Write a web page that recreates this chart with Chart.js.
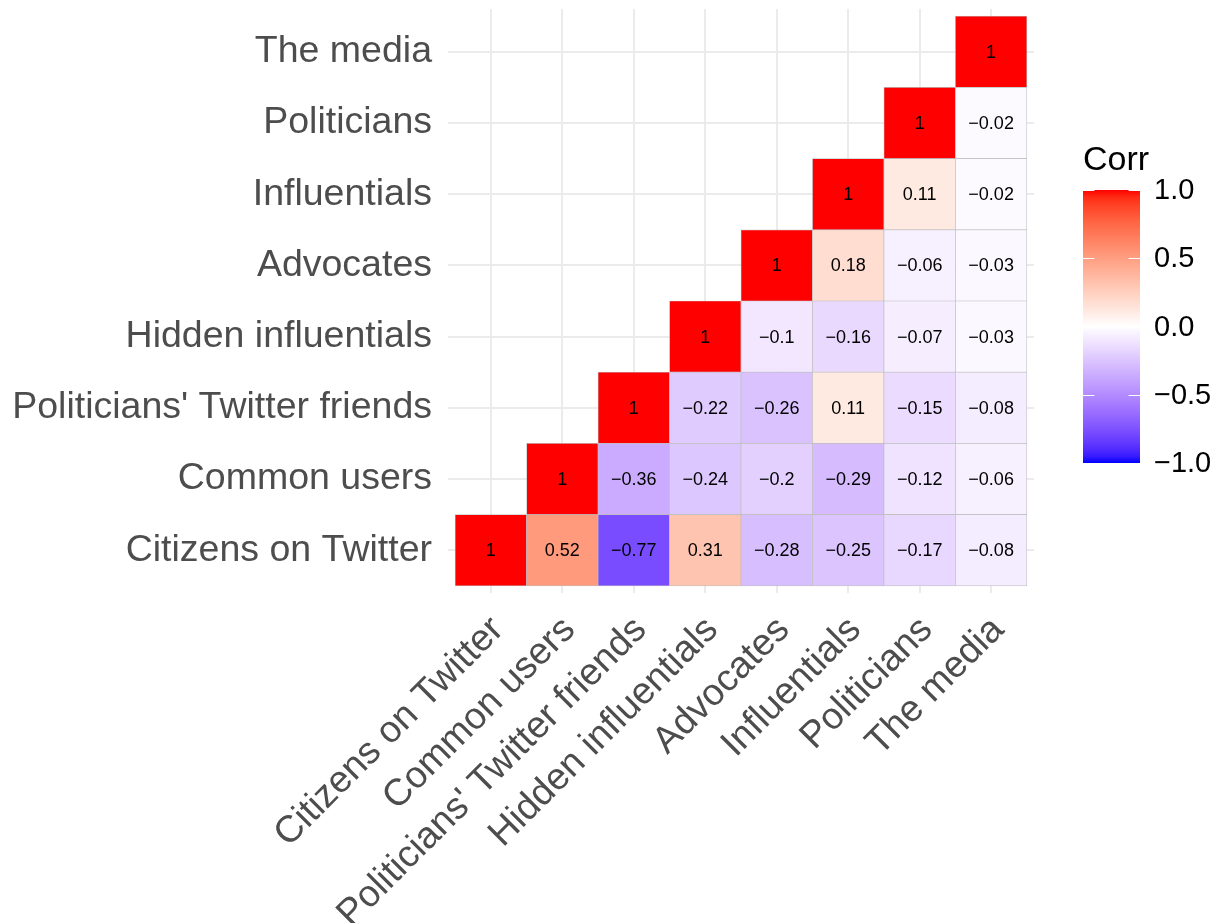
<!DOCTYPE html>
<html>
<head>
<meta charset="utf-8">
<title>Correlation heatmap</title>
<script src="https://cdn.jsdelivr.net/npm/chart.js@4.4.1/dist/chart.umd.min.js"></script>
<style>
  html, body { margin: 0; padding: 0; background: #ffffff; }
  #chart { display: block; }
</style>
</head>
<body>
<canvas id="chart" width="1217" height="923"></canvas>
<script>
// groups, same order on both axes (left->right, bottom->top)
const groups = [
  'Citizens on Twitter',
  'Common users',
  "Politicians' Twitter friends",
  'Hidden influentials',
  'Advocates',
  'Influentials',
  'Politicians',
  'The media'
];

// correlations for each row, starting on the diagonal and going right
const rowCitizens     = [1, 0.52, -0.77, 0.31, -0.28, -0.25, -0.17, -0.08];
const rowCommon       = [1, -0.36, -0.24, -0.2, -0.29, -0.12, -0.06];
const rowFriends      = [1, -0.22, -0.26, 0.11, -0.15, -0.08];
const rowHidden       = [1, -0.1, -0.16, -0.07, -0.03];
const rowAdvocates    = [1, 0.18, -0.06, -0.03];
const rowInfluentials = [1, 0.11, -0.02];
const rowPoliticians  = [1, -0.02];
const rowMedia        = [1];

const corrRows = [rowCitizens, rowCommon, rowFriends, rowHidden,
                  rowAdvocates, rowInfluentials, rowPoliticians, rowMedia];

// colour bar breaks
const legendBreaks = [1, 0.5, 0, -0.5, -1];
const legendLabels = ['1.0', '0.5', '0.0', '\u22120.5', '\u22121.0'];

const FONT = '"Liberation Sans", Arial, Helvetica, sans-serif';
Chart.defaults.font.family = FONT;

// --- blue / white / red gradient, interpolated in Lab like ggplot ---
function toLinear(c) { c /= 255; return c <= 0.04045 ? c / 12.92 : Math.pow((c + 0.055) / 1.055, 2.4); }
function fromLinear(c) {
  const v = c <= 0.0031308 ? 12.92 * c : 1.055 * Math.pow(c, 1 / 2.4) - 0.055;
  return Math.round(Math.max(0, Math.min(1, v)) * 255);
}
const WX = 0.95047, WZ = 1.08883;
function rgbToLab(rgb) {
  const R = toLinear(rgb[0]), G = toLinear(rgb[1]), B = toLinear(rgb[2]);
  const X = 0.4124564 * R + 0.3575761 * G + 0.1804375 * B;
  const Y = 0.2126729 * R + 0.7151522 * G + 0.0721750 * B;
  const Z = 0.0193339 * R + 0.1191920 * G + 0.9503041 * B;
  const f = t => t > 216 / 24389 ? Math.cbrt(t) : (24389 / 27 * t + 16) / 116;
  const fx = f(X / WX), fy = f(Y), fz = f(Z / WZ);
  return [116 * fy - 16, 500 * (fx - fy), 200 * (fy - fz)];
}
function labToRgb(lab) {
  const fy = (lab[0] + 16) / 116, fx = fy + lab[1] / 500, fz = fy - lab[2] / 200;
  const inv = t => t * t * t > 216 / 24389 ? t * t * t : (116 * t - 16) / (24389 / 27);
  const X = inv(fx) * WX, Y = inv(fy), Z = inv(fz) * WZ;
  return [
    fromLinear(3.2404542 * X - 1.5371385 * Y - 0.4985314 * Z),
    fromLinear(-0.9692660 * X + 1.8760108 * Y + 0.0415560 * Z),
    fromLinear(0.0556434 * X - 0.2040259 * Y + 1.0572252 * Z)
  ];
}
const LAB_LOW = rgbToLab([0, 0, 255]);
const LAB_MID = rgbToLab([255, 255, 255]);
const LAB_HIGH = rgbToLab([255, 0, 0]);

function corrColor(v) {
  const t = Math.max(-1, Math.min(1, v));
  const end = t < 0 ? LAB_LOW : LAB_HIGH;
  const f = Math.abs(t);
  const lab = LAB_MID.map((m, i) => m + (end[i] - m) * f);
  const c = labToRgb(lab);
  return 'rgb(' + c[0] + ',' + c[1] + ',' + c[2] + ')';
}

function fmt(v) {
  return String(v).replace('-', '\u2212');
}

// one floating-bar dataset per row
const datasets = corrRows.map((row, i) => ({
  label: groups[i],
  data: row.map((v, k) => ({ x: i + k, y: [i - 0.5, i + 0.5], v: v })),
  backgroundColor: row.map(v => corrColor(v)),
  borderColor: '#BEBEBE',
  borderWidth: 0.7,
  borderSkipped: false,
  barPercentage: 1,
  categoryPercentage: 1,
  grouped: false
}));

// write the coefficient in each cell
const cellLabels = {
  id: 'cellLabels',
  afterDatasetsDraw(chart) {
    const ctx = chart.ctx;
    ctx.save();
    ctx.font = '18px ' + FONT;
    ctx.fillStyle = '#000000';
    ctx.textAlign = 'center';
    ctx.textBaseline = 'middle';
    chart.data.datasets.forEach((ds, i) => {
      chart.getDatasetMeta(i).data.forEach((bar, k) => {
        const c = bar.getCenterPoint();
        ctx.fillText(fmt(ds.data[k].v), c.x, c.y + 1);
      });
    });
    ctx.restore();
  }
};

// colour bar legend on the right
const corrLegend = {
  id: 'corrLegend',
  afterDraw(chart) {
    const ctx = chart.ctx;
    const left = chart.chartArea.right + 49;
    const w = 57, top = 190, bottom = 463;
    const yOf = v => bottom - (v + 1) / 2 * (bottom - top);
    ctx.save();
    ctx.fillStyle = '#000000';
    ctx.font = '34px ' + FONT;
    ctx.textAlign = 'left';
    ctx.textBaseline = 'alphabetic';
    ctx.fillText('Corr', left, 170);

    const grad = ctx.createLinearGradient(0, top, 0, bottom);
    for (let s = 0; s <= 40; s++) {
      grad.addColorStop(s / 40, corrColor(1 - s / 20));
    }
    ctx.fillStyle = grad;
    ctx.fillRect(left, top, w, bottom - top);

    ctx.strokeStyle = '#ffffff';
    ctx.lineWidth = 1;
    ctx.font = '29px ' + FONT;
    ctx.textBaseline = 'middle';
    legendBreaks.forEach((b, i) => {
      const y = Math.round(yOf(b)) + 0.5;
      ctx.beginPath();
      ctx.moveTo(left, y); ctx.lineTo(left + w / 5, y);
      ctx.moveTo(left + w - w / 5, y); ctx.lineTo(left + w, y);
      ctx.stroke();
      ctx.fillStyle = '#000000';
      ctx.fillText(legendLabels[i], left + 71, yOf(b) + 1);
    });
    ctx.restore();
  }
};

const tickValues = groups.map((g, i) => i);

new Chart(document.getElementById('chart'), {
  type: 'bar',
  data: { datasets: datasets },
  options: {
    responsive: false,
    animation: false,
    devicePixelRatio: 1,
    layout: { padding: { top: 9, right: 183, bottom: 0, left: 0 } },
    plugins: {
      legend: { display: false },
      tooltip: { enabled: false }
    },
    scales: {
      x: {
        type: 'linear',
        offset: false,
        min: -0.6,
        max: 7.6,
        afterBuildTicks: s => { s.ticks = tickValues.map(v => ({ value: v })); },
        afterFit: s => { s.height = 330; s.paddingLeft = 0; s.paddingRight = 0; },
        grid: { color: '#EBEBEB', lineWidth: 2, drawTicks: false, offset: false },
        border: { display: false },
        ticks: {
          autoSkip: false,
          maxRotation: 45,
          minRotation: 45,
          padding: 15,
          labelOffset: 7,
          color: '#4D4D4D',
          font: { size: 37.5 },
          callback: v => groups[v]
        }
      },
      y: {
        type: 'linear',
        offset: false,
        min: -0.6,
        max: 7.6,
        afterBuildTicks: s => { s.ticks = tickValues.map(v => ({ value: v })); },
        afterFit: s => { s.width = 448; s.paddingTop = 0; s.paddingBottom = 0; },
        grid: { color: '#EBEBEB', lineWidth: 2, drawTicks: false },
        border: { display: false },
        ticks: {
          autoSkip: false,
          padding: 16,
          color: '#4D4D4D',
          font: { size: 37.5 },
          callback: v => groups[v]
        }
      }
    }
  },
  plugins: [cellLabels, corrLegend]
});
</script>
</body>
</html>
